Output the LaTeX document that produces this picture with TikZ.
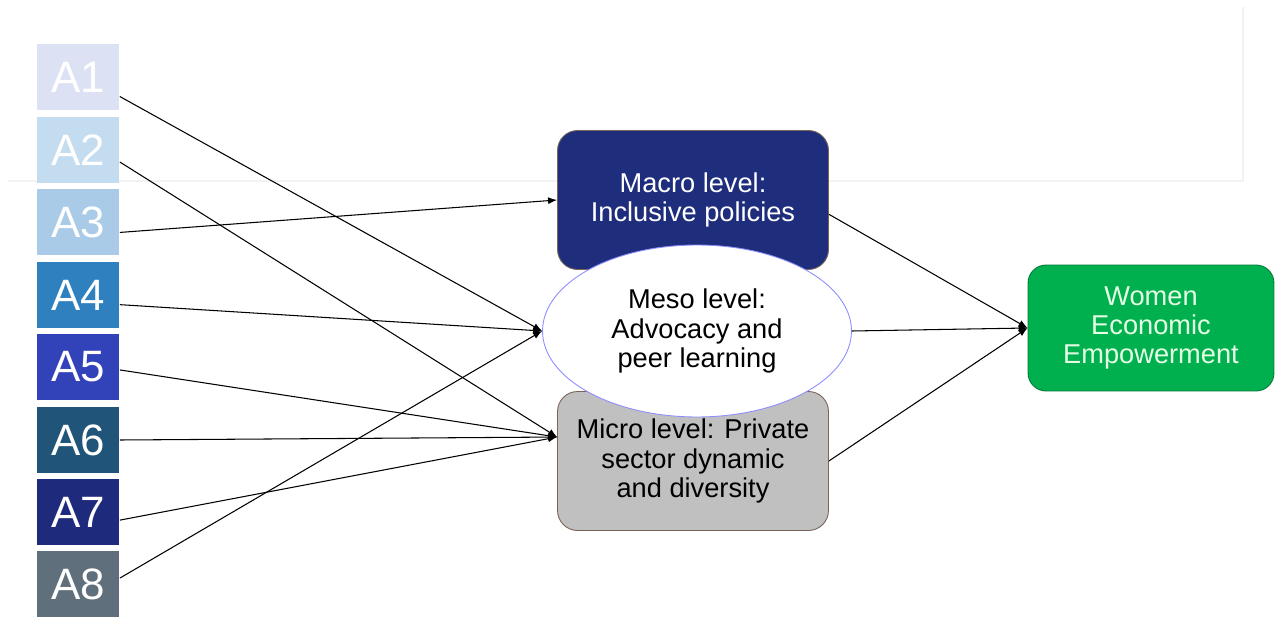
\documentclass[tikz,border=0pt]{standalone}
\usepackage{fontspec}
\setmainfont{Liberation Sans}
\usetikzlibrary{arrows.meta,shapes.geometric}
\definecolor{aone}{HTML}{DCE2F4}
\definecolor{atwo}{HTML}{C3DCF0}
\definecolor{athree}{HTML}{A9CBE7}
\definecolor{afour}{HTML}{2F80BE}
\definecolor{afive}{HTML}{3242B9}
\definecolor{asix}{HTML}{205478}
\definecolor{aseven}{HTML}{1E2B7C}
\definecolor{aeight}{HTML}{5F707C}
\definecolor{macronavy}{HTML}{1F2E7C}
\definecolor{microgray}{HTML}{C0C0C0}
\definecolor{weegreen}{HTML}{00B04F}
\definecolor{edgebrown}{HTML}{7A6358}

\begin{document}
\begin{tikzpicture}[x=0.02cm,y=-0.02cm,
   abox/.style={inner sep=0pt,minimum width=1.66cm,minimum height=1.34cm,
                text=white,font=\fontsize{25}{25}\selectfont},
   level/.style={draw=edgebrown,line width=0.5pt,rounded corners=0.4cm,inner sep=0pt,
                 minimum width=5.42cm,minimum height=2.78cm,align=center,
                 font=\fontsize{15.5}{17}\selectfont},
   link/.style={-{Latex[length=1.8mm,width=1.4mm]},line width=0.6pt}]
  \useasboundingbox (0,0) rectangle (1281,618);
  % faint frame of the screenshot behind
  \draw[black!5,line width=1.2pt] (8,181) -- (1243,181) -- (1243,7);
  % activities
  \node[abox,fill=aone]   (A1) at (78,77)  {A1};
  \node[abox,fill=atwo]   (A2) at (78,150) {A2};
  \node[abox,fill=athree] (A3) at (78,222) {A3};
  \node[abox,fill=afour]  (A4) at (78,295) {A4};
  \node[abox,fill=afive]  (A5) at (78,367) {A5};
  \node[abox,fill=asix]   (A6) at (78,440) {A6};
  \node[abox,fill=aseven] (A7) at (78,512) {A7};
  \node[abox,fill=aeight] (A8) at (78,584) {A8};
  % levels
  \node[level,fill=macronavy,text=white] (macro) at (693,200) {Macro level:\\Inclusive policies};
  \node[level,fill=microgray] (micro) at (693,461) {Micro level: Private\\sector dynamic\\and diversity};
  \node[ellipse,draw=blue!45!white,line width=0.5pt,fill=white,inner sep=0pt,
        minimum width=6.18cm,minimum height=3.44cm,align=center,
        font=\fontsize{15.5}{17}\selectfont] (meso) at (697,331) {Meso level:\\Advocacy and\\peer learning};
  \node[draw=weegreen!70!black,line width=0.5pt,fill=weegreen,rounded corners=0.36cm,
        inner sep=0pt,minimum width=4.92cm,minimum height=2.52cm,align=center,
        text=white!90!green,font=\fontsize{15.5}{16.5}\selectfont] (wee) at (1151,328)
        {Women\\Economic\\Empowerment};
  % links
  \draw[link] (A1.-25) -- (meso.west);
  \draw[link] (A2.-16) -- (micro.170);
  \draw[link] (A3.-14) -- (macro.west);
  \draw[link] (A4.-13) -- (meso.west);
  \draw[link] (A5.-4)  -- (micro.170);
  \draw[link] (A6.east) -- (micro.170);
  \draw[link] (A7.-11) -- (micro.170);
  \draw[link] (A8.8)   -- (meso.west);
  \draw[link] (macro.-6) -- (wee.west);
  \draw[link] (meso.east) -- (wee.west);
  \draw[link] (micro.east) -- (wee.west);
\end{tikzpicture}
\end{document}
